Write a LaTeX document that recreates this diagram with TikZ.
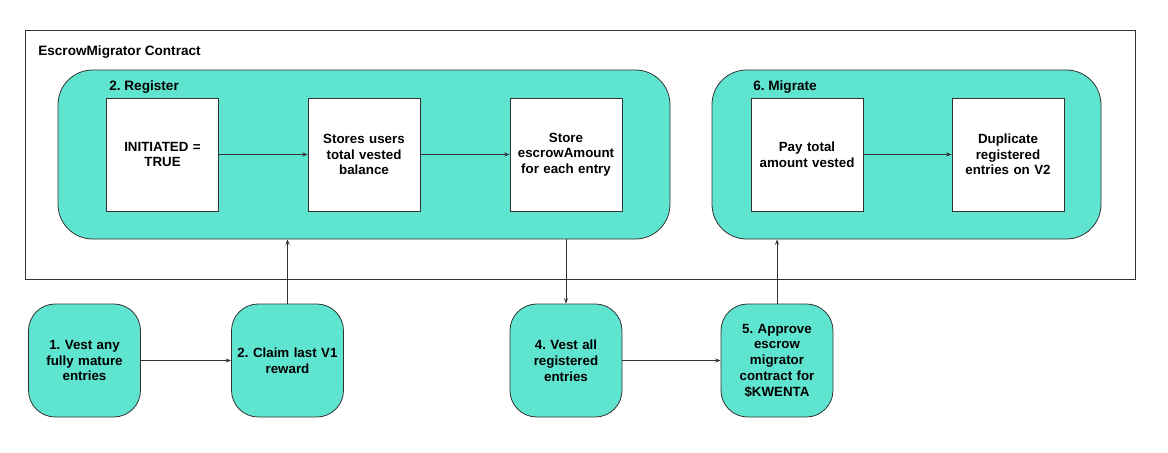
\documentclass[tikz,border=0pt]{standalone}
\usepackage{fontspec}
\setmainfont{Liberation Sans}
\frenchspacing
\usetikzlibrary{arrows.meta}
\definecolor{teal1}{HTML}{5FE4D0}
\definecolor{edge}{HTML}{333333}
\tikzset{
  container/.style={draw=edge, line width=0.6pt, inner sep=0pt},
  group/.style={draw=edge, fill=teal1, line width=0.6pt, rounded corners=26pt, inner sep=0pt},
  whitebox/.style={draw=edge, fill=white, line width=0.6pt, minimum width=84pt, minimum height=84.75pt, align=center, text width=80pt, font=\bfseries\fontsize{10}{11.8}\selectfont, inner sep=0pt},
  stepnode/.style={draw=edge, fill=teal1, line width=0.6pt, rounded corners=20pt, minimum width=84pt, minimum height=84.75pt, align=center, text width=80pt, font=\bfseries\fontsize{10}{11.8}\selectfont, inner sep=0pt},
  title/.style={anchor=west, font=\bfseries\fontsize{10.2}{12}\selectfont, inner sep=0pt},
  conn/.style={draw=edge, line width=0.6pt, -{Stealth[length=4pt,width=3pt]}}
}
\begin{document}
\begin{tikzpicture}[x=0.75pt,y=-0.75pt]
\useasboundingbox (0,0) rectangle (1168,453);
\node[container, minimum width=832.5pt, minimum height=186.75pt] (contract) at (580,154.5) {};
\node[title] (contractlbl) at (38,52) {EscrowMigrator Contract};
\node[group, minimum width=459pt, minimum height=126.75pt] (register) at (364,154.5) {};
\node[title] (registerlbl) at (109,87) {2. Register};
\node[group, minimum width=291.75pt, minimum height=126.75pt] (migrate) at (906.5,154.5) {};
\node[title] (migratelbl) at (753,87) {6. Migrate};
\node[whitebox] (init) at (162.5,154.5) {INITIATED =\\TRUE\\[12pt]};
\node[whitebox] (stores) at (364,154.5) {Stores users\\total vested\\balance};
\node[whitebox] (store) at (566,154.5) {Store\\escrowAmount\\for each entry};
\node[whitebox] (pay) at (807,154.5) {Pay total\\amount vested\\[12pt]};
\node[whitebox] (dup) at (1008,154.5) {Duplicate\\registered\\entries on V2};
\node[stepnode] (vest1) at (84.5,360.5) {1. Vest any\\fully mature\\entries};
\node[stepnode] (claim) at (287.5,360.5) {2. Claim last V1\\reward\\[12pt]};
\node[stepnode] (vest4) at (566,360.5) {4. Vest all\\registered\\entries};
\node[stepnode] (approve) at (777,360.5) {5. Approve\\escrow\\migrator\\contract for\\\$KWENTA};
\draw[conn] (init) -- (stores);
\draw[conn] (stores) -- (store);
\draw[conn] (pay) -- (dup);
\draw[conn] (vest1) -- (claim);
\draw[conn] (vest4) -- (approve);
\draw[conn] (claim.north) -- (claim.north |- register.south);
\draw[conn] (register.south -| vest4.north) -- (vest4.north);
\draw[conn] (approve.north) -- (approve.north |- migrate.south);
\end{tikzpicture}
\end{document}
